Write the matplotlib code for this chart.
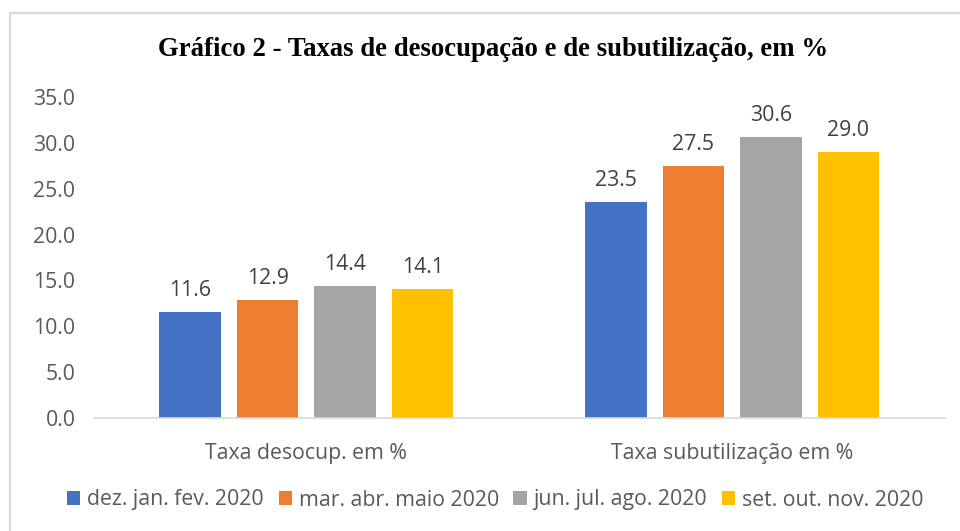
import numpy as np
import matplotlib.pyplot as plt
from matplotlib.patches import Rectangle, Patch

# data
categories = ['Taxa desocup. em %', 'Taxa subutilização em %']
periods = ['dez. jan. fev. 2020', 'mar. abr. maio 2020',
           'jun. jul. ago. 2020', 'set. out. nov. 2020']
values = [
    [11.6, 23.5],
    [12.9, 27.5],
    [14.4, 30.6],
    [14.1, 29.0],
]
colors = ['#4472C4', '#ED7D31', '#A5A5A5', '#FFC000']
yticks = [0, 5, 10, 15, 20, 25, 30, 35]

plt.rcParams['font.family'] = ['Open Sans', 'DejaVu Sans']
fs = 15.3

fig = plt.figure(figsize=(9.6, 5.31), dpi=100)
W, H = 960, 531

# light grey chart frame (right/bottom edges run off the picture)
fig.patches.append(Rectangle((10 / W, -0.1), 1.0, 1 - 13 / H + 0.1,
                             transform=fig.transFigure, fill=False,
                             edgecolor='#d9d9d9', linewidth=1.6))

ax = fig.add_axes([93.5 / W, 1 - 418 / H, (945 - 93.5) / W, (418 - 97) / H])

x = np.arange(len(categories))
step = 0.182
width = 0.144
for i, (vals, col) in enumerate(zip(values, colors)):
    pos = x + (i - 1.5) * step
    bars = ax.bar(pos, vals, width=width, color=col, label=periods[i], zorder=2)
    for b, v in zip(bars, vals):
        ax.text(b.get_x() + b.get_width() / 2, v + 1.2, f'{v:.1f}',
                ha='center', va='bottom', fontsize=fs, color='#404040')

ax.set_xlim(-0.5, 1.5)
ax.set_ylim(0, 35)
ax.set_yticks(yticks)
ax.set_yticklabels([f'{t:.1f}' for t in yticks], fontsize=fs, color='#595959')
ax.set_xticks(x)
ax.set_xticklabels(categories, fontsize=fs, color='#595959')
ax.tick_params(axis='both', length=0)
ax.tick_params(axis='y', pad=13)
ax.tick_params(axis='x', pad=18)

for s in ['top', 'right', 'left']:
    ax.spines[s].set_visible(False)
ax.spines['bottom'].set_color('#d9d9d9')
ax.spines['bottom'].set_linewidth(1.2)

fig.text(493 / W, 1 - 50 / H, 'Gráfico 2 - Taxas de desocupação e de subutilização, em %',
         ha='center', va='center', fontsize=19.3, fontweight='bold',
         family=['Liberation Serif', 'DejaVu Serif'], color='black')

handles = [Patch(facecolor=c, edgecolor='none') for c in colors]
fig.legend(handles, periods, loc='center', bbox_to_anchor=(0.516, 1 - 500 / H),
           ncol=4, frameon=False, fontsize=fs, labelcolor='#595959',
           handlelength=0.62, handleheight=0.62, handletextpad=0.33,
           columnspacing=0.68, borderaxespad=0)

fig.savefig('out.png', dpi=100)
